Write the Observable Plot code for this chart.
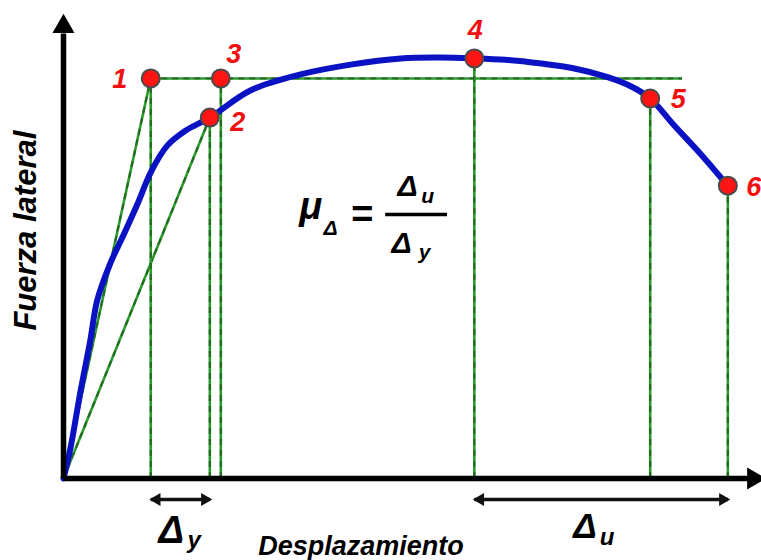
<!DOCTYPE html>
<html>
<head>
<meta charset="utf-8">
<script src="https://cdn.jsdelivr.net/npm/d3@7"></script>
<script src="https://cdn.jsdelivr.net/npm/@observablehq/plot@0.6"></script>
<style>
  html, body { margin: 0; padding: 0; background: #fff; }
  svg { display: block; }
</style>
</head>
<body>
<div id="chart"></div>
<script>
// ---- data (arbitrary units: displacement 0..10, lateral force 0..10) ----
const pointLabels = ["1", "2", "3", "4", "5", "6"];
const pointX = [1.27, 2.13, 2.29, 5.98, 8.54, 9.67];
const pointY = [8.99, 8.11, 8.99, 9.44, 8.54, 6.58];

const curveX = [0, 0.10, 0.25, 0.39, 0.49, 0.68, 0.87, 1.08, 1.27, 1.51, 1.78, 2.13, 2.72, 3.45, 4.18, 4.91, 5.49, 6.00, 6.43, 6.72, 7.42, 7.92, 8.25, 8.54, 8.88, 9.27, 9.67];
const curveY = [0, 0.67, 1.98, 3.10, 4.00, 4.83, 5.46, 6.18, 6.88, 7.48, 7.82, 8.11, 8.72, 9.08, 9.30, 9.44, 9.46, 9.44, 9.41, 9.37, 9.22, 9.02, 8.82, 8.54, 7.95, 7.30, 6.58];

const horizontalEnd = 9.01;          // end of dashed line through points 1 and 3
const xAxisLabel = "Desplazamiento";
const yAxisLabel = "Fuerza lateral";
const deltaY = ["Δ", "y"];
const deltaU = ["Δ", "u"];
const formula = ["μ", "Δ", "=", "Δ", "u", "Δ", "y"];

// ---- layout / style helpers (not data) ----
const font = "'Liberation Sans', Arial, sans-serif";
const txt = {fontFamily: font, fontWeight: "bold", fontStyle: "italic", lineAnchor: "bottom", textAnchor: "middle"};
const blue = "#0b12c4";
const greenSolid = "#2c9a2c";
const greenDash = "#1b4d1b";
const labelNudge = [[-31, 10], [28, 13], [13, -15], [1, -19], [28, 10], [26, 10]];
const arrowLevel = -0.47;          // y of the Δ double arrows
const formulaX = 5.14, formulaY = 5.93, formulaX1 = 4.69, formulaX2 = 5.59;
const idx = pointLabels.map((_, i) => i);

function green(mark, data, opts) {
  return [
    mark(data, {...opts, stroke: greenSolid, strokeWidth: 2.6}),
    mark(data, {...opts, stroke: greenDash, strokeWidth: 2.2, strokeDasharray: "6,5", strokeOpacity: 0.6})
  ];
}

function dbl(i0, i1) {
  return [
    Plot.link([0], {x1: pointX[i0], x2: pointX[i1], y1: arrowLevel, y2: arrowLevel, stroke: "#111", strokeWidth: 3.5}),
    Plot.dot([0], {x: pointX[i0], y: arrowLevel, symbol: "triangle", r: 4.8, rotate: -90, dx: 6, fill: "#111", stroke: "none"}),
    Plot.dot([0], {x: pointX[i1], y: arrowLevel, symbol: "triangle", r: 4.8, rotate: 90, dx: -5, fill: "#111", stroke: "none"})
  ];
}

const chart = Plot.plot({
  width: 761,
  height: 560,
  x: {domain: [0, 10], range: [63, 750], axis: null},
  y: {domain: [0, 10], range: [478, 33], axis: null},
  marks: [
    // green construction lines
    ...green(Plot.link, [0, 1], {x1: 0, y1: 0, x2: i => pointX[i], y2: i => pointY[i]}),
    ...green(Plot.ruleX, idx, {x: i => pointX[i], y1: 0, y2: i => pointY[i]}),
    ...green(Plot.ruleY, [0], {y: pointY[0], x1: pointX[0], x2: horizontalEnd}),
    // force-displacement curve
    Plot.line(curveX.map((x, i) => [x, curveY[i]]), {x: d => d[0], y: d => d[1], stroke: blue, strokeWidth: 6, curve: "catmull-rom", strokeLinecap: "round", strokeLinejoin: "round"}),
    // axes
    Plot.link([0], {x1: 0, x2: 0, y1: 0, y2: 10, stroke: "#000", strokeWidth: 5.5}),
    Plot.link([0], {x1: 0, x2: 10, y1: 0, y2: 0, stroke: "#000", strokeWidth: 5.5}),
    Plot.dot([0], {x: 0, y: 10, symbol: "triangle", r: 8.2, dy: -7, fill: "#000"}),
    Plot.dot([0], {x: 10, y: 0, symbol: "triangle", r: 8.2, rotate: 90, dx: 3, fill: "#000"}),
    // points
    Plot.dot(idx, {x: i => pointX[i], y: i => pointY[i], r: 9, fill: "#ff1414", stroke: "#4a4a4a", strokeWidth: 2}),
    ...idx.map(i => Plot.text([i], {...txt, x: pointX[i], y: pointY[i], text: d => pointLabels[d], dx: labelNudge[i][0], dy: labelNudge[i][1], fill: "#f01010", fontSize: 27})),
    // double arrows
    ...dbl(0, 1),
    ...dbl(3, 5),
    // Δy and Δu labels
    Plot.text([deltaY[0]], {...txt, x: (pointX[0] + pointX[1]) / 2, y: arrowLevel, text: d => d, fontSize: 38, dy: 44, dx: -9}),
    Plot.text([deltaY[1]], {...txt, x: (pointX[0] + pointX[1]) / 2, y: arrowLevel, text: d => d, fontSize: 24, dy: 49, dx: 14}),
    Plot.text([deltaU[0]], {...txt, x: (pointX[3] + pointX[5]) / 2, y: arrowLevel, text: d => d, fontSize: 35, dy: 39, dx: -16}),
    Plot.text([deltaU[1]], {...txt, x: (pointX[3] + pointX[5]) / 2, y: arrowLevel, text: d => d, fontSize: 24, dy: 46, dx: 6}),
    // axis titles
    Plot.text([xAxisLabel], {...txt, x: 4.33, y: arrowLevel, text: d => d, fontSize: 27, dy: 56}),
    Plot.text([yAxisLabel], {...txt, x: -0.40, y: 5.57, text: d => d, fontSize: 31, rotate: -90}),
    // ductility formula μΔ = Δu / Δy
    Plot.ruleY([formulaY], {x1: formulaX1, x2: formulaX2, stroke: "#000", strokeWidth: 3.5}),
    Plot.text([formula[0]], {...txt, x: formulaX, y: formulaY, text: d => d, fontSize: 38, dx: -106, dy: 4}),
    Plot.text([formula[1]], {...txt, x: formulaX, y: formulaY, text: d => d, fontSize: 21, dx: -86, dy: 20}),
    Plot.text([formula[2]], {...txt, x: formulaX, y: formulaY, text: d => d, fontSize: 38, dx: -55, dy: 12}),
    Plot.text([formula[3]], {...txt, x: formulaX, y: formulaY, text: d => d, fontSize: 30, dx: -9, dy: -19}),
    Plot.text([formula[4]], {...txt, x: formulaX, y: formulaY, text: d => d, fontSize: 21, dx: 11, dy: -12}),
    Plot.text([formula[5]], {...txt, x: formulaX, y: formulaY, text: d => d, fontSize: 30, dx: -15, dy: 38}),
    Plot.text([formula[6]], {...txt, x: formulaX, y: formulaY, text: d => d, fontSize: 21, dx: 8, dy: 44})
  ]
});
document.getElementById("chart").appendChild(chart);
</script>
</body>
</html>
